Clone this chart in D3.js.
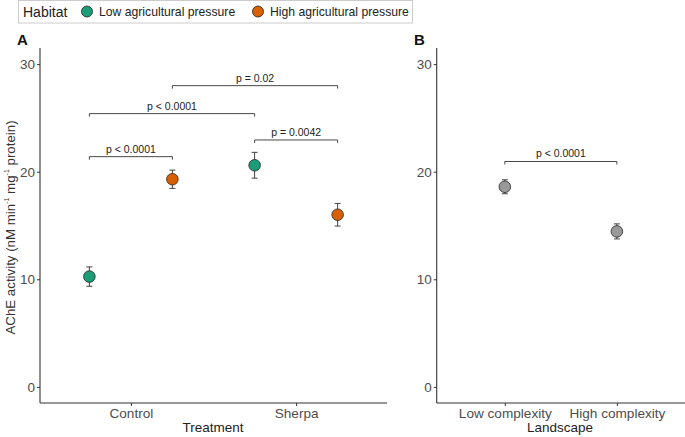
<!DOCTYPE html>
<html>
<head>
<meta charset="utf-8">
<script src="https://cdn.jsdelivr.net/npm/d3@7"></script>
<style>
  body { margin: 0; background: #fff; }
  svg { font-family: "Liberation Sans", Arial, sans-serif; }
</style>
</head>
<body>
<svg id="chart" width="685" height="437"></svg>
<script>
// panel A data
const treatments = ["Control", "Sherpa"];
const habitats = ["Low agricultural pressure", "High agricultural pressure"];
const habitatColors = ["#1b9e77", "#d95f02"];
const meansA = [[10.25, 19.3], [20.6, 16.0]];   // [treatment][habitat]
const errA = [[0.9, 0.85], [1.2, 1.05]];
// brackets: [from treatment, from habitat, to treatment, to habitat, y, label]
const bracketsA = [
  [0, 0, 0, 1, 21.4, "p < 0.0001"],
  [0, 0, 1, 0, 25.4, "p < 0.0001"],
  [0, 1, 1, 1, 28.0, "p = 0.02"],
  [1, 0, 1, 1, 22.95, "p = 0.0042"]
];

// panel B data
const landscapes = ["Low complexity", "High complexity"];
const meansB = [18.6, 14.45];
const errB = [0.65, 0.7];
const bracketB = [0, 1, 20.95, "p < 0.0001"];

const yTicks = [0, 10, 20, 30];

const svg = d3.select("#chart");
const plotTop = 48, plotBottom = 403;

const y = d3.scaleLinear().domain([-1.5, 31.5]).range([plotBottom, plotTop]);

// ---------- legend ----------
const leg = svg.append("g");
leg.append("rect").attr("x", 18.5).attr("y", 0.5).attr("width", 394).attr("height", 22.5)
  .attr("fill", "#fff").attr("stroke", "#ccc");
leg.append("text").attr("x", 23).attr("y", 17).attr("font-size", 14).attr("fill", "#222").text("Habitat");
const legX = [87, 258];
habitats.forEach((h, i) => {
  leg.append("circle").attr("cx", legX[i]).attr("cy", 11.5).attr("r", 5.5)
    .attr("fill", habitatColors[i]).attr("stroke", "#222").attr("stroke-width", 0.8);
  leg.append("text").attr("x", legX[i] + 12).attr("y", 16).attr("font-size", 12.2)
    .attr("fill", "#222").text(h);
});

function drawYAxis(x0) {
  const g = svg.append("g").attr("transform", `translate(${x0},0)`);
  g.call(d3.axisLeft(y).tickValues(yTicks).tickSize(3).tickPadding(2));
  g.select(".domain").attr("d", `M0,${plotTop}V${plotBottom}`).attr("stroke", "#333").attr("stroke-width", 1.1);
  g.selectAll(".tick line").attr("stroke", "#333");
  g.selectAll(".tick text").attr("font-size", 13.5).attr("fill", "#4d4d4d")
    .attr("font-family", "Liberation Sans, Arial, sans-serif");
}

function drawXAxis(xs, x0, x1, title, cx) {
  const g = svg.append("g").attr("transform", `translate(0,${plotBottom})`);
  g.call(d3.axisBottom(xs).tickSize(3).tickPadding(2));
  g.select(".domain").attr("d", `M${x0},0H${x1}`).attr("stroke", "#333").attr("stroke-width", 1.1);
  g.selectAll(".tick line").attr("stroke", "#333");
  g.selectAll(".tick text").attr("font-size", 13.6).attr("fill", "#4d4d4d")
    .attr("font-family", "Liberation Sans, Arial, sans-serif");
  svg.append("text").attr("x", cx).attr("y", 432).attr("text-anchor", "middle")
    .attr("font-size", 13.5).attr("fill", "#222").text(title);
}

function drawPoint(cx, m, e, fill) {
  const g = svg.append("g");
  const w = 3;
  g.append("line").attr("x1", cx).attr("x2", cx).attr("y1", y(m - e)).attr("y2", y(m + e))
    .attr("stroke", "#444").attr("stroke-width", 1);
  [m - e, m + e].forEach(v => g.append("line").attr("x1", cx - w).attr("x2", cx + w)
    .attr("y1", y(v)).attr("y2", y(v)).attr("stroke", "#444").attr("stroke-width", 1));
  g.append("circle").attr("cx", cx).attr("cy", y(m)).attr("r", 5.8)
    .attr("fill", fill).attr("stroke", "#222").attr("stroke-width", 0.8);
}

function drawBracket(xa, xb, v, label) {
  const yy = y(v);
  svg.append("path").attr("d", `M${xa},${yy + 3}V${yy}H${xb}V${yy + 3}`)
    .attr("fill", "none").attr("stroke", "#333").attr("stroke-width", 0.9);
  svg.append("text").attr("x", (xa + xb) / 2).attr("y", yy - 4).attr("text-anchor", "middle")
    .attr("font-size", 10.5).attr("fill", "#222").text(label);
}

// ---------- panel A ----------
const xA0 = 40, xA1 = 387;
const xA = d3.scalePoint().domain(treatments).range([xA0, xA1]).padding(0.55);
const dodge = d3.scalePoint().domain(habitats).range([-41.5, 41.5]);
const posA = (t, h) => xA(treatments[t]) + dodge(habitats[h]);

drawYAxis(xA0);
drawXAxis(xA, xA0, xA1, "Treatment", 213);

bracketsA.forEach(b => drawBracket(posA(b[0], b[1]), posA(b[2], b[3]), b[4], b[5]));
treatments.forEach((t, ti) => habitats.forEach((h, hi) =>
  drawPoint(posA(ti, hi), meansA[ti][hi], errA[ti][hi], habitatColors[hi])));

svg.append("text").attr("x", 17).attr("y", 45).attr("font-size", 15).attr("font-weight", "bold")
  .attr("fill", "#111").text("A");

// y title with superscripts
const yt = svg.append("text").attr("transform", `translate(15,${(plotTop + plotBottom) / 2 + 2}) rotate(-90)`)
  .attr("text-anchor", "middle").attr("font-size", 13.3).attr("fill", "#333");
yt.append("tspan").text("AChE activity (nM min");
yt.append("tspan").attr("font-size", 7).attr("dy", -6).text("-1");
yt.append("tspan").attr("dy", 6).text(" mg");
yt.append("tspan").attr("font-size", 7).attr("dy", -6).text("-1");
yt.append("tspan").attr("dy", 6).text(" protein)");

// ---------- panel B ----------
const xB0 = 436.7, xB1 = 685;
const xB = d3.scalePoint().domain(landscapes).range([xB0, xB1]).padding(0.608);

drawYAxis(xB0);
drawXAxis(xB, xB0, xB1, "Landscape", 560);

drawBracket(xB(landscapes[bracketB[0]]), xB(landscapes[bracketB[1]]), bracketB[2], bracketB[3]);
landscapes.forEach((l, i) => drawPoint(xB(l), meansB[i], errB[i], "#999999"));

svg.append("text").attr("x", 414).attr("y", 45).attr("font-size", 15).attr("font-weight", "bold")
  .attr("fill", "#111").text("B");
</script>
</body>
</html>
